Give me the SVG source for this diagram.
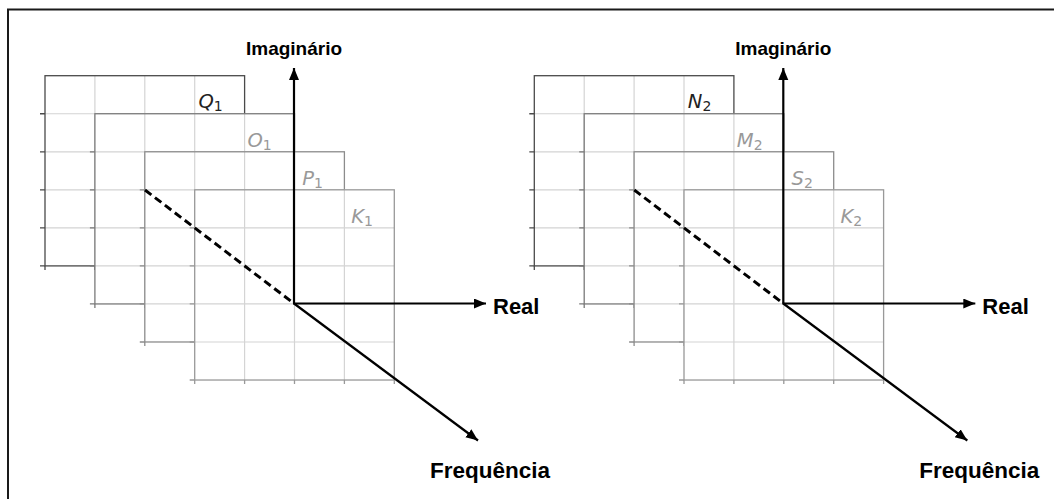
<svg xmlns="http://www.w3.org/2000/svg" xmlns:xlink="http://www.w3.org/1999/xlink" width="1054" height="499" viewBox="0 0 1054 499">
<style>
.bg{fill:#fff;stroke:none}
.gi{fill:none;stroke:#d4d4d4;stroke-width:1.2}
.go{fill:none;stroke:currentColor;stroke-width:1.3}
.lbl{font-family:"DejaVu Sans",sans-serif;font-size:19.5px;font-style:italic}
.sub{font-size:14px;font-style:normal}
.ax{fill:none;stroke:#000;stroke-width:2.2}
.dash{fill:none;stroke:#000;stroke-width:3;stroke-dasharray:8 4.5}
.t{font-family:"Liberation Sans",Arial,sans-serif;font-weight:bold;fill:#000}
.frame{fill:none;stroke:#1a1a1a;stroke-width:2}
</style>
<defs>
<marker id="ah" markerUnits="userSpaceOnUse" markerWidth="14" markerHeight="12" refX="12" refY="5" orient="auto">
<path d="M0,0 L12,5 L0,10 z" fill="#000"/>
</marker>
<g id="grid">
<rect class="bg" x="0" y="0" width="199.6" height="190.2"/>
<path class="gi" d="M49.9,0V190.2M99.8,0V190.2M149.7,0V190.2M0,38.04H199.6M0,76.08H199.6M0,114.12H199.6M0,152.16H199.6"/>
<rect class="go" x="0" y="0" width="199.6" height="190.2"/>
<path class="go" d="M-5,38.04H0M-5,76.08H0M-5,114.12H0M-5,152.16H0M-5,190.2H0M0,190.2v4M49.9,190.2v4M99.8,190.2v4M149.7,190.2v4M199.6,190.2v4"/>
</g>
</defs>
<path class="frame" d="M8,499V9.5H1054"/>
<g id="panel-left">
<g id="node-Q1"><use xlink:href="#grid" href="#grid" transform="translate(45,75.7)" style="color:#4a4a4a"/><text class="lbl" x="198.5" y="107.5" fill="#222">Q<tspan class="sub" dy="3">1</tspan></text></g>
<g id="node-O1"><use xlink:href="#grid" href="#grid" transform="translate(94.9,113.74)" style="color:#7a7a7a"/><text class="lbl" x="247.5" y="147.3" fill="#999">O<tspan class="sub" dy="3">1</tspan></text></g>
<g id="node-P1"><use xlink:href="#grid" href="#grid" transform="translate(144.8,151.78)" style="color:#8c8c8c"/><text class="lbl" x="302.2" y="185" fill="#999">P<tspan class="sub" dy="3">1</tspan></text></g>
<g id="node-K1"><use xlink:href="#grid" href="#grid" transform="translate(194.7,189.82)" style="color:#999"/><text class="lbl" x="351.2" y="223.3" fill="#999">K<tspan class="sub" dy="3">1</tspan></text></g>
<g id="connectors-left">
<line class="dash" x1="145" y1="190" x2="294" y2="303.5"/>
<line class="ax" x1="294" y1="303.5" x2="294" y2="68" marker-end="url(#ah)"/>
<line class="ax" x1="293" y1="303.5" x2="486" y2="303.5" marker-end="url(#ah)"/>
<line class="ax" x1="294" y1="303.5" x2="478" y2="440.5" marker-end="url(#ah)"/>
</g>
<text class="t" x="294" y="55" font-size="19" text-anchor="middle">Imaginário</text>
<text class="t" x="493" y="313.5" font-size="22">Real</text>
<text class="t" x="430" y="478" font-size="22.5">Frequência</text>
</g>
<g id="panel-right" transform="translate(489.3,0)">
<g id="node-N2"><use xlink:href="#grid" href="#grid" transform="translate(45,75.7)" style="color:#4a4a4a"/><text class="lbl" x="198.5" y="107.5" fill="#222">N<tspan class="sub" dy="3">2</tspan></text></g>
<g id="node-M2"><use xlink:href="#grid" href="#grid" transform="translate(94.9,113.74)" style="color:#7a7a7a"/><text class="lbl" x="247.5" y="147.3" fill="#999">M<tspan class="sub" dy="3">2</tspan></text></g>
<g id="node-S2"><use xlink:href="#grid" href="#grid" transform="translate(144.8,151.78)" style="color:#8c8c8c"/><text class="lbl" x="302.2" y="185" fill="#999">S<tspan class="sub" dy="3">2</tspan></text></g>
<g id="node-K2"><use xlink:href="#grid" href="#grid" transform="translate(194.7,189.82)" style="color:#999"/><text class="lbl" x="351.2" y="223.3" fill="#999">K<tspan class="sub" dy="3">2</tspan></text></g>
<g id="connectors-right">
<line class="dash" x1="145" y1="190" x2="294" y2="303.5"/>
<line class="ax" x1="294" y1="303.5" x2="294" y2="68" marker-end="url(#ah)"/>
<line class="ax" x1="293" y1="303.5" x2="486" y2="303.5" marker-end="url(#ah)"/>
<line class="ax" x1="294" y1="303.5" x2="478" y2="440.5" marker-end="url(#ah)"/>
</g>
<text class="t" x="294" y="55" font-size="19" text-anchor="middle">Imaginário</text>
<text class="t" x="493" y="313.5" font-size="22">Real</text>
<text class="t" x="430" y="478" font-size="22.5">Frequência</text>
</g>
</svg>
